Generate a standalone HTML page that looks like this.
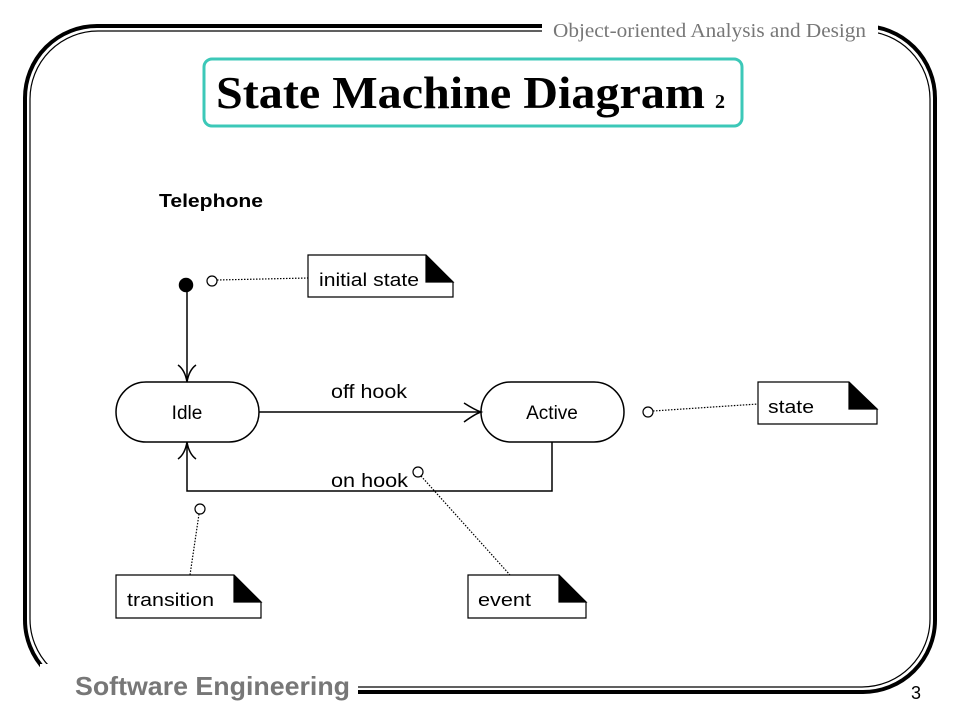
<!DOCTYPE html>
<html><head><meta charset="utf-8"><style>
html,body{margin:0;padding:0;background:#fff;}
svg{display:block;}
</style></head><body>
<svg width="960" height="720" viewBox="0 0 960 720" xmlns="http://www.w3.org/2000/svg" font-family="Liberation Sans, Arial, sans-serif">
<rect width="960" height="720" fill="#fff"/>
<!-- frame -->
<rect x="25" y="26" width="910" height="666" rx="72" ry="72" fill="none" stroke="#000" stroke-width="4"/>
<rect x="30" y="31" width="900" height="656" rx="68" ry="68" fill="none" stroke="#000" stroke-width="1.2"/>
<rect x="542" y="14" width="336" height="30" fill="#fff"/>
<rect x="40" y="664" width="318" height="40" fill="#fff"/>
<text x="553" y="37" font-family="Liberation Serif, serif" font-size="20" fill="#777" textLength="313" lengthAdjust="spacingAndGlyphs">Object-oriented Analysis and Design</text>
<text x="75" y="695" font-size="26" font-weight="bold" fill="#777" textLength="275" lengthAdjust="spacingAndGlyphs">Software Engineering</text>
<text x="911" y="699" font-size="18" fill="#000">3</text>
<!-- title -->
<rect x="204" y="59" width="538" height="67" rx="8" fill="#fff" stroke="#3cc8b8" stroke-width="3"/>
<text x="216" y="108" font-family="Liberation Serif, serif" font-size="46" font-weight="bold" textLength="489" lengthAdjust="spacingAndGlyphs">State Machine Diagram</text>
<text x="715" y="108" font-family="Liberation Serif, serif" font-size="20" font-weight="bold">2</text>
<text x="159" y="207" font-size="18" font-weight="bold" textLength="104" lengthAdjust="spacingAndGlyphs">Telephone</text>
<!-- diagram -->
<g stroke="#000" stroke-width="1.5" fill="none">
<circle cx="186" cy="285" r="6.5" fill="#000"/>
<line x1="187" y1="285" x2="187" y2="382"/>
<path d="M178,365 Q185,370 187,382 Q189,370 196,365"/>
<rect x="116" y="382" width="143" height="60" rx="30"/>
<rect x="481" y="382" width="143" height="60" rx="30"/>
<line x1="259" y1="412" x2="481" y2="412"/>
<path d="M464,403 Q475,410 481,412 Q475,414 464,422"/>
<polyline points="552,442 552,491 187,491 187,442"/>
<path d="M178,459 Q185,454 187,442 Q189,454 196,459"/>
</g>
<g fill="#000" font-size="19">
<text x="187" y="419" text-anchor="middle">Idle</text>
<text x="552" y="419" text-anchor="middle">Active</text>
<text x="331" y="398" textLength="76" lengthAdjust="spacingAndGlyphs">off hook</text>
<text x="331" y="487" textLength="77" lengthAdjust="spacingAndGlyphs">on hook</text>
</g>
<!-- dotted connectors -->
<g stroke="#000" stroke-width="1.2" stroke-dasharray="1.5,1.5" fill="none">
<line x1="217" y1="280" x2="308" y2="278"/>
<line x1="653" y1="411" x2="758" y2="404"/>
<line x1="421" y1="476" x2="510" y2="575"/>
<line x1="199" y1="514" x2="190" y2="575"/>
</g>
<g stroke="#000" stroke-width="1.2" fill="#fff">
<circle cx="212" cy="281" r="5"/>
<circle cx="648" cy="412" r="5"/>
<circle cx="418" cy="472" r="5"/>
<circle cx="200" cy="509" r="5"/>
</g>
<!-- notes -->
<g stroke="#000" stroke-width="1.2">
<path d="M308,255 H426 L453,282 V297 H308 Z" fill="#fff"/>
<path d="M426,256 V282 H453 Z" fill="#000"/>
<path d="M758,382 H849 L877,409 V424 H758 Z" fill="#fff"/>
<path d="M849,383 V409 H877 Z" fill="#000"/>
<path d="M116,575 H234 L261,602 V618 H116 Z" fill="#fff"/>
<path d="M234,576 V602 H261 Z" fill="#000"/>
<path d="M468,575 H559 L586,602 V618 H468 Z" fill="#fff"/>
<path d="M559,576 V602 H586 Z" fill="#000"/>
</g>
<g fill="#000" font-size="18">
<text x="319" y="286" textLength="100" lengthAdjust="spacingAndGlyphs">initial state</text>
<text x="768" y="413" textLength="46" lengthAdjust="spacingAndGlyphs">state</text>
<text x="127" y="606" textLength="87" lengthAdjust="spacingAndGlyphs">transition</text>
<text x="478" y="606" textLength="53" lengthAdjust="spacingAndGlyphs">event</text>
</g>
</svg>
</body></html>
